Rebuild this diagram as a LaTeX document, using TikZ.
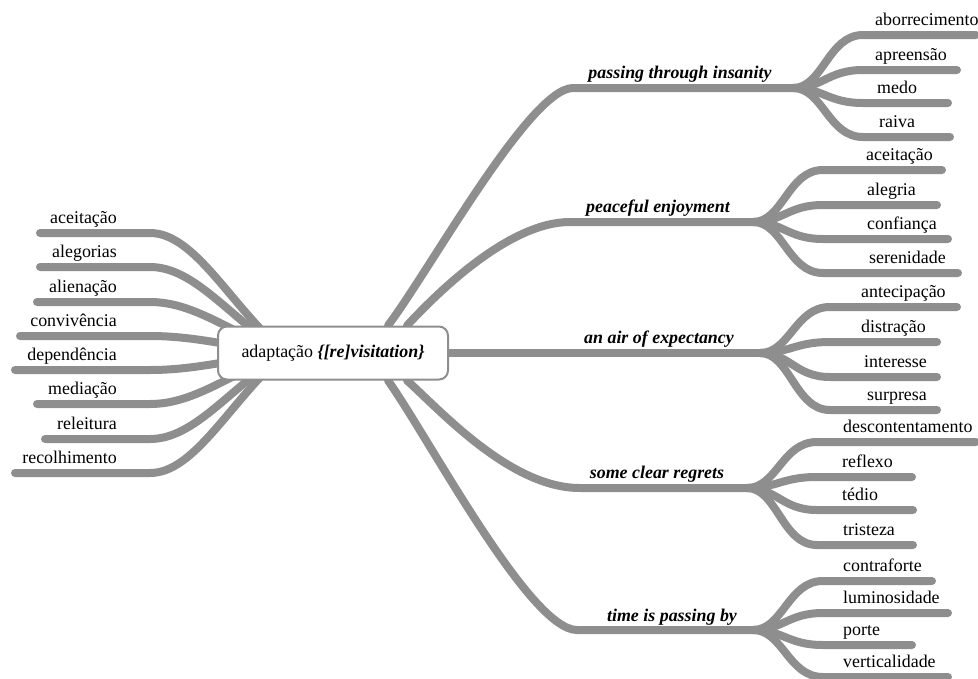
\documentclass[tikz,border=0pt]{standalone}
\usepackage{fontspec}
\setmainfont{Liberation Serif}
\definecolor{limbgray}{RGB}{142,142,142}
\pgfdeclarelayer{bg}
\pgfsetlayers{bg,main}
\begin{document}
\begin{tikzpicture}[x=1pt,y=-1pt,
  limb/.style={draw=limbgray,line width=8pt,line cap=round},
  txt/.style={inner sep=0pt,font=\fontsize{17.9}{21}\selectfont},
  leaf/.style={txt,anchor=base west},
  leftleaf/.style={txt,anchor=base east},
  topic/.style={inner sep=0pt,anchor=base,font=\fontsize{17.9}{21}\selectfont\bfseries\itshape},
  core/.style={draw=limbgray,line width=2pt,fill=white,rounded corners=9pt,
    minimum width=230pt,minimum height=53pt,inner sep=0pt,txt}]
\useasboundingbox (0,0) rectangle (978,678);

% central node
\node[core] (c) at (333,353) {adaptação \textbf{\textit{\{[re]visitation\}}}};

% topic labels
\node[topic] (t1) at (680,78)  {passing through insanity};
\node[topic] (t2) at (658,212) {peaceful enjoyment};
\node[topic] (t3) at (659,343) {an air of expectancy};
\node[topic] (t4) at (657,478) {some clear regrets};
\node[topic] (t5) at (672,621) {time is passing by};

% forks where each topic splits
\coordinate (h1) at (793,88);
\coordinate (h2) at (753,222);
\coordinate (h3) at (760,353);
\coordinate (h4) at (747,488);
\coordinate (h5) at (753,630);

\begin{pgfonlayer}{bg}
  \draw[limb] ([xshift=55pt]c.north) .. controls (430,270) and (530,88) .. (573,88) -- (h1);
  \draw[limb] ([xshift=74pt]c.north) .. controls (440,290) and (510,222) .. (570,222) -- (h2);
  \draw[limb] (c.east) -- (h3);
  \draw[limb] ([xshift=74pt]c.south) .. controls (440,410) and (510,488) .. (580,488) -- (h4);
  \draw[limb] ([xshift=55pt]c.south) .. controls (430,440) and (530,630) .. (577,630) -- (h5);
\end{pgfonlayer}

% leaves on the right
\foreach \hub/\hx/\cy/\xe/\lx/\word [count=\i] in {
  h1/793/35/976/875/aborrecimento,
  h1/793/70/957/875/apreensão,
  h1/793/103/948/877/medo,
  h1/793/137/950/879/raiva,
  h2/753/170/942/866/aceitação,
  h2/753/205/937/867/alegria,
  h2/753/239/948/867/confiança,
  h2/753/273/958/869/serenidade,
  h3/760/307/957/861/antecipação,
  h3/760/342/937/861/distração,
  h3/760/377/937/864/interesse,
  h3/760/410/937/867/surpresa,
  h4/747/442/976/843/descontentamento,
  h4/747/477/912/842/reflexo,
  h4/747/510/913/842/tédio,
  h4/747/545/913/843/tristeza,
  h5/753/581/932/843/contraforte,
  h5/753/613/948/843/luminosidade,
  h5/753/645/912/843/porte,
  h5/753/677/948/843/verticalidade}{
  \coordinate (k\i) at (\xe,\cy);
  \node[leaf] (w\i) at (\lx,\cy-10) {\word};
  \begin{pgfonlayer}{bg}
    \draw[limb] (\hub) .. controls +(30,0) and (\hx+35,\cy) .. (\hx+70,\cy) -- (k\i);
  \end{pgfonlayer}
}

% leaves on the left
\foreach \y/\xl/\word [count=\i] in {
  233/40/aceitação,
  267/40/alegorias,
  302/37/alienação,
  336/20/convivência,
  370/15/dependência,
  404/37/mediação,
  439/45/releitura,
  473/15/recolhimento}{
  \coordinate (l\i) at (\xl,\y);
  \node[leftleaf] (v\i) at (117,\y-10) {\word};
  \begin{pgfonlayer}{bg}
    \draw[limb] ([xshift=-48pt]c.center) .. controls (230,{\y+(353-\y)*0.6}) and (195,\y) .. (150,\y) -- (l\i);
  \end{pgfonlayer}
}
\end{tikzpicture}
\end{document}
